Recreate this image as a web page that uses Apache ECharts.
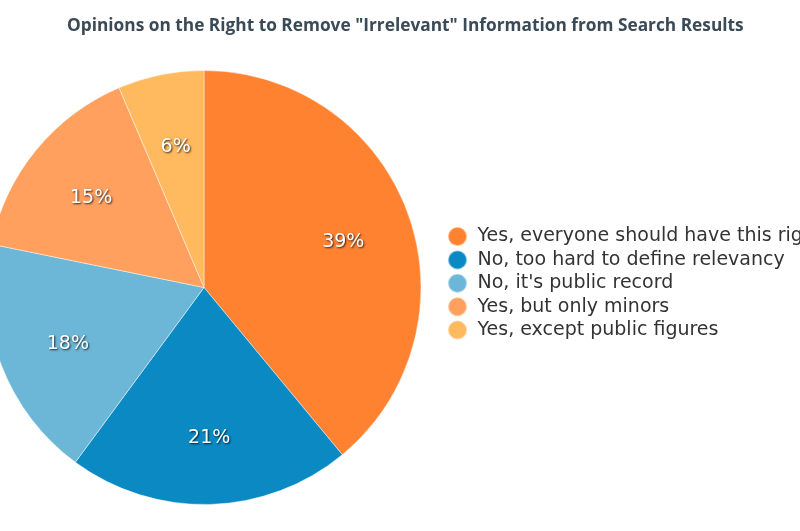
<!DOCTYPE html>
<html>
<head>
<meta charset="utf-8">
<script src="https://cdn.jsdelivr.net/npm/echarts@6/dist/echarts.min.js"></script>
<style>
  html, body {margin: 0; padding: 0; background: #fff;}
  #chart {width: 800px; height: 531px;}
</style>
</head>
<body>
<div id="chart"></div>
<script>
const CHART_TITLE = 'Opinions on the Right to Remove "Irrelevant" Information from Search Results';
const OPINIONS = [
  "Yes, everyone should have this right",
  "No, too hard to define relevancy",
  "No, it's public record",
  "Yes, but only minors",
  "Yes, except public figures",
];
// slice sizes; labels show them rounded
const SHARES = [39.0, 21.1, 18.1, 15.4, 6.4];
const SLICE_COLORS = ["#ff8231", "#0b89c3", "#6cb7d7", "#ffa05f", "#ffb95f"];

const pieData = OPINIONS.map((name, i) => ({name, value: SHARES[i]}));
const PIE_CENTER = [204, 287.5];
const PIE_RADIUS = 217;

const chart = echarts.init(document.getElementById("chart"));
chart.setOption({
  animation: false,
  color: SLICE_COLORS,
  title: {
    text: CHART_TITLE,
    left: 62,
    top: 13,
    textStyle: {fontFamily: "Open Sans", fontSize: 17.3, fontWeight: "bold", color: "#3a4a56"},
  },
  legend: {
    orient: "vertical",
    left: 447,
    top: 225.5,
    padding: 0,
    icon: "circle",
    itemWidth: 26,
    itemHeight: 19,
    itemGap: 1.4,
    data: OPINIONS,
    textStyle: {fontFamily: "DejaVu Sans", fontSize: 19, lineHeight: 22, color: "#333", padding: [0, 0, 0, 2]},
  },
  series: [
    {
      type: "pie",
      center: PIE_CENTER,
      radius: [0, PIE_RADIUS],
      startAngle: 90,
      clockwise: true,
      label: {show: false},
      labelLine: {show: false},
      emphasis: {disabled: true},
      itemStyle: {borderColor: "rgba(255,255,255,0.45)", borderWidth: 1},
      data: pieData,
    },
    {
      // transparent ring, only used to place the percent labels further out
      type: "pie",
      center: PIE_CENTER,
      radius: [71, PIE_RADIUS],
      startAngle: 90,
      clockwise: true,
      silent: true,
      itemStyle: {color: "transparent"},
      labelLine: {show: false},
      label: {
        show: true,
        position: "inside",
        offset: [1, 4],
        formatter: p => Math.round(p.value) + "%",
        fontFamily: "DejaVu Sans",
        fontSize: 19,
        color: "#fff",
        textShadowColor: "rgba(0,0,0,0.8)",
        textShadowBlur: 2,
        textShadowOffsetX: 1,
        textShadowOffsetY: 1,
      },
      data: pieData,
    },
  ],
});
</script>
</body>
</html>
